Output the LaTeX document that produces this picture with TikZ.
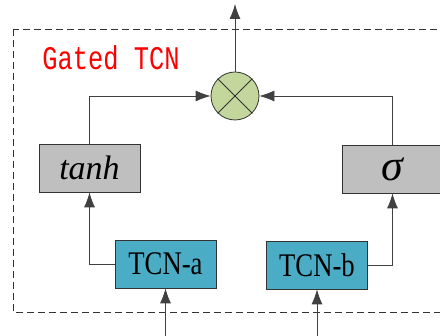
\documentclass[tikz,border=0pt]{standalone}
\usepackage{fontspec}
\usepackage{graphicx}
\setmainfont{Liberation Serif}
\newfontfamily\monofont{Liberation Mono}
\usetikzlibrary{arrows.meta}
\definecolor{tcnblue}{HTML}{4BACC6}
\definecolor{actgray}{HTML}{BFBFBF}
\definecolor{multgreen}{HTML}{C3D69B}
\newcommand{\narrow}[2]{\scalebox{#1}[1]{#2}}
\begin{document}
\begin{tikzpicture}[x=1pt, y=-1pt, line width=0.8pt,
    >={Latex[length=15pt,width=11pt]},
    tcnbox/.style={rectangle, draw=black!80, fill=tcnblue, minimum width=101pt, minimum height=48pt, inner sep=0pt, font=\fontsize{33}{33}\selectfont},
    actbox/.style={rectangle, draw=black!80, fill=actgray, minimum width=101pt, minimum height=48pt, inner sep=0pt},
    edge/.style={->, draw=black!75}]
        \clip (0,0) rectangle (440,336);
        % frame
        \draw[dashed, dash pattern=on 7pt off 4pt, draw=black!80] (13,29) rectangle (470,312);
        \node(title) [anchor=west, text=red, font=\monofont\fontsize{33}{33}\selectfont, inner sep=0pt] at (42,58) {\narrow{0.77}{Gated TCN}};

        % nodes
        \node(mult) [circle, draw=black!80, fill=multgreen, minimum size=48pt, inner sep=0pt] at (235,96) {};
        \node(tanh) [actbox, font=\fontsize{34}{34}\selectfont\itshape] at (89.5,168) {tanh};
        \node(sigma) [actbox, font=\fontsize{44}{44}\selectfont\itshape] at (392.5,169) {σ};
        \node(tcna) [tcnbox] at (165.5,264) {\narrow{0.81}{TCN-a}};
        \node(tcnb) [tcnbox] at (317,265) {\narrow{0.81}{TCN-b}};

        \coordinate(ina) at (165.5,340);
        \coordinate(inb) at (317,340);
        \coordinate(out) at (235,4);

        \draw[black!80] (mult.north west) -- (mult.south east);
        \draw[black!80] (mult.north east) -- (mult.south west);

        %edges
        \draw[edge] (ina) -- (tcna);
        \draw[edge] (inb) -- (tcnb);
        \draw[edge] (tcna.west) -| (tanh.south);
        \draw[edge] (tcnb.east) -| (sigma.south);
        \draw[edge] (tanh.north) |- (mult.west);
        \draw[edge] (sigma.north) |- (mult.east);
        \draw[edge] (mult.north) -- (out);

    \end{tikzpicture}
\end{document}
